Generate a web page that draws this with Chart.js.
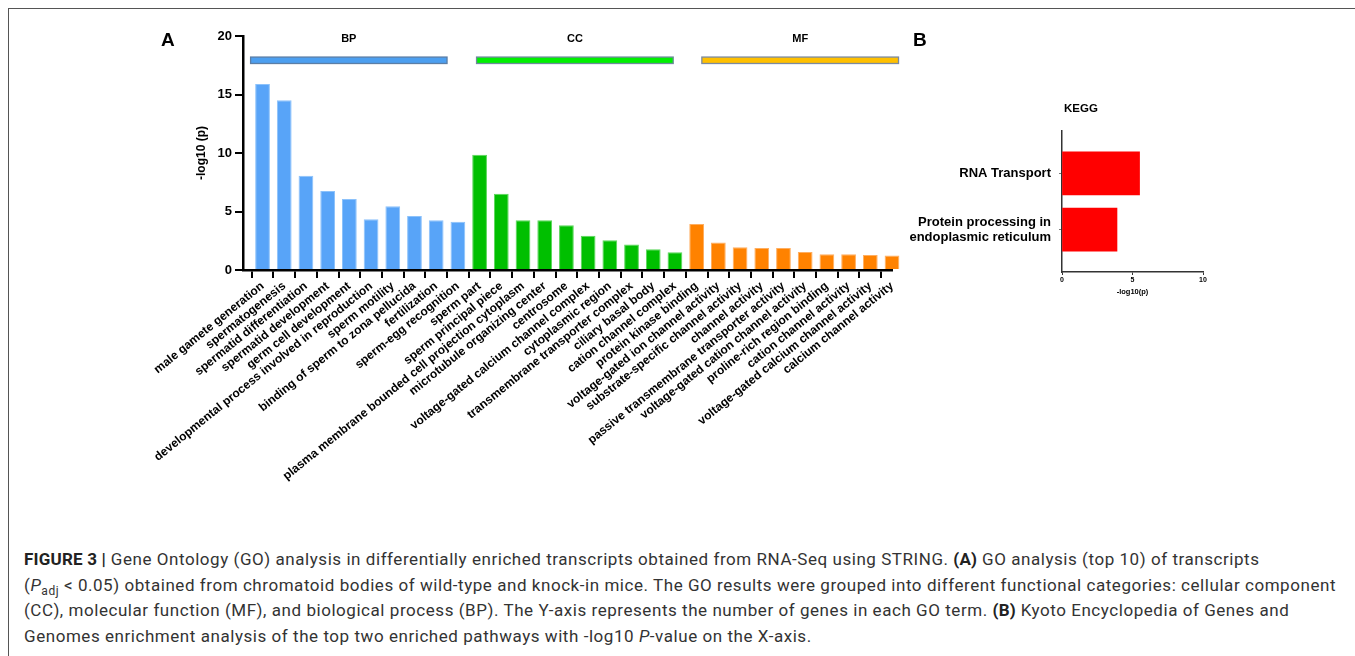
<!DOCTYPE html>
<html>
<head>
<meta charset="utf-8">
<script src="https://cdn.jsdelivr.net/npm/chart.js@4.4.1/dist/chart.umd.min.js"></script>
<style>
  html, body { margin: 0; padding: 0; background: #fff; }
  body { width: 1355px; height: 656px; position: relative; overflow: hidden; font-family: "Liberation Sans", Arial, sans-serif; }
  #frameTop { position: absolute; left: 8px; top: 8px; width: 1360px; height: 0; border-top: 1.5px solid #555; }
  #frameLeft { position: absolute; left: 8px; top: 8px; width: 0; height: 660px; border-left: 1.5px solid #555; }
  #cA { position: absolute; left: 0; top: 0; }
  #cB { position: absolute; left: 900px; top: 90px; }
  .panel { position: absolute; font-weight: bold; font-size: 19px; color: #000; }
  #kegg { position: absolute; left: 1060px; top: 102px; width: 42px; text-align: center; font-weight: bold; font-size: 11.5px; color: #000; }
  #caption { position: absolute; left: 24px; top: 547px; font-family: Roboto, "Liberation Sans", sans-serif; font-size: 17px; letter-spacing: 0.55px; line-height: 25.6px; color: #333; white-space: nowrap; }
  #caption b { font-weight: bold; color: #222; letter-spacing: 0.2px; }
</style>
</head>
<body>
<div id="frameTop"></div>
<div id="frameLeft"></div>
<canvas id="cA" width="940" height="500"></canvas>
<canvas id="cB" width="320" height="220"></canvas>
<div class="panel" style="left:161px; top:29px;">A</div>
<div class="panel" style="left:913px; top:29px;">B</div>
<div id="kegg">KEGG</div>
<div id="caption">
<b>FIGURE 3 |</b> Gene Ontology (GO) analysis in differentially enriched transcripts obtained from RNA-Seq using STRING. <b>(A)</b> GO analysis (top 10) of transcripts<br>
(<i>P</i><sub style="font-size:12px;line-height:0;">adj</sub> &lt; 0.05) obtained from chromatoid bodies of wild-type and knock-in mice. The GO results were grouped into different functional categories: cellular component<br>
(CC), molecular function (MF), and biological process (BP). The Y-axis represents the number of genes in each GO term. <b>(B)</b> Kyoto Encyclopedia of Genes and<br>
Genomes enrichment analysis of the top two enriched pathways with -log10 <i>P</i>-value on the X-axis.
</div>
<script>
// ---------- Panel A data ----------
const bpTerms = [
  'male gamete generation', 'spermatogenesis', 'spermatid differentiation', 'spermatid development',
  'germ cell development', 'developmental process involved in reproduction', 'sperm motility',
  'binding of sperm to zona pellucida', 'fertilization', 'sperm-egg recognition'
];
const bpValues = [15.9, 14.5, 8.05, 6.75, 6.07, 4.33, 5.44, 4.62, 4.25, 4.13];

const ccTerms = [
  'sperm part', 'sperm principal piece', 'plasma membrane bounded cell projection cytoplasm',
  'microtubule organizing center', 'centrosome', 'voltage-gated calcium channel complex',
  'cytoplasmic region', 'transmembrane transporter complex', 'ciliary basal body', 'cation channel complex'
];
const ccValues = [9.86, 6.52, 4.25, 4.25, 3.82, 2.93, 2.54, 2.19, 1.77, 1.51];

const mfTerms = [
  'protein kinase binding', 'voltage-gated ion channel activity', 'substrate-specific channel activity',
  'channel activity', 'passive transmembrane transporter activity', 'voltage-gated cation channel activity',
  'proline-rich region binding', 'cation channel activity', 'voltage-gated calcium channel activity',
  'calcium channel activity'
];
const mfValues = [3.93, 2.34, 1.94, 1.88, 1.88, 1.54, 1.34, 1.34, 1.28, 1.25];

const groupNames = ['BP', 'CC', 'MF'];
const yTicksA = [0, 5, 10, 15, 20];

// ---------- Panel B data ----------
const keggPathways = ['RNA Transport', 'Protein processing in endoplasmic reticulum'];
const keggLines = [['RNA Transport'], ['Protein processing in', 'endoplasmic reticulum']];
const keggValues = [5.5, 3.9];
const xTicksB = [0, 5, 10];

// ---------- build ----------
const categories = [...bpTerms, ...ccTerms, ...mfTerms];
const values = [...bpValues, ...ccValues, ...mfValues];
const barFill = { BP: '#58a4f8', CC: '#00bf00', MF: '#ff8200' };
const barEdge = { BP: '#8cc2fb', CC: '#5ad65a', MF: '#ffae60' };
const groupOfBar = [
  ...bpTerms.map(() => 'BP'), ...ccTerms.map(() => 'CC'), ...mfTerms.map(() => 'MF')
];

// group header bars, spans given in category-index units
const groupBarStyle = {
  BP: { fill: '#4c9ff0', stroke: '#5b7ea6', from: -0.55, to: 8.5 },
  CC: { fill: '#00f000', stroke: '#6d8b9c', from: 9.86, to: 18.92 },
  MF: { fill: '#ffc000', stroke: '#7b8aa0', from: 20.24, to: 29.3 }
};

const groupPlugin = {
  id: 'groups',
  afterDraw(chart) {
    const ctx = chart.ctx;
    const xs = chart.scales.x, ys = chart.scales.y;
    ctx.save();
    groupNames.forEach(g => {
      const st = groupBarStyle[g];
      const x0 = xs.getPixelForValue(st.from);
      const x1 = xs.getPixelForValue(st.to);
      const y0 = ys.getPixelForValue(18.2), y1 = ys.getPixelForValue(17.65);
      ctx.fillStyle = st.fill;
      ctx.fillRect(x0, y0, x1 - x0, y1 - y0);
      ctx.strokeStyle = st.stroke;
      ctx.lineWidth = 1.3;
      ctx.strokeRect(x0, y0, x1 - x0, y1 - y0);
      ctx.fillStyle = '#000';
      ctx.font = 'bold 11px "Liberation Sans", Arial, sans-serif';
      ctx.textAlign = 'center';
      ctx.textBaseline = 'middle';
      ctx.fillText(g, (x0 + x1) / 2, ys.getPixelForValue(19.75));
    });
    ctx.restore();
  }
};

const fontA = { family: '"Liberation Sans", Arial, sans-serif', weight: 'bold' };

new Chart(document.getElementById('cA'), {
  type: 'bar',
  data: {
    datasets: [{
      data: values.map((v, i) => ({ x: i, y: v })),
      backgroundColor: groupOfBar.map(g => barFill[g]),
      borderColor: groupOfBar.map(g => barEdge[g]),
      borderWidth: 1,
      barPercentage: 0.68,
      categoryPercentage: 1.0,
      clip: false
    }]
  },
  options: {
    responsive: false,
    animation: false,
    layout: { padding: { left: 190, top: 36, right: 48, bottom: 0 } },
    plugins: { legend: { display: false }, tooltip: { enabled: false } },
    scales: {
      x: {
        type: 'linear',
        min: -0.9, max: 29,
        offset: false,
        afterBuildTicks: s => { s.ticks = categories.map((c, i) => ({ value: i })); },
        grid: { display: true, drawOnChartArea: false, drawTicks: true, tickLength: 8, color: '#000', lineWidth: 2 },
        border: { display: true, color: '#000', width: 2.5 },
        ticks: { autoSkip: false, minRotation: 39, maxRotation: 39, color: '#000', padding: 1,
                 font: { ...fontA, size: 12 },
                 callback: v => categories[v] },
        afterFit: s => { s.height = 230; }
      },
      y: {
        min: 0, max: 20,
        afterBuildTicks: s => { s.ticks = yTicksA.map(v => ({ value: v })); },
        grid: { display: true, drawOnChartArea: false, drawTicks: true, tickLength: 8, color: '#000', lineWidth: 2 },
        border: { display: true, color: '#000', width: 2.5 },
        ticks: { color: '#000', padding: 3, font: { ...fontA, size: 13 } },
        title: { display: true, text: '-log10 (p)', color: '#000', padding: 4, font: { ...fontA, size: 12 } },
        afterFit: s => { s.width = 53; }
      }
    }
  },
  plugins: [groupPlugin]
});

// ---------- Panel B ----------
const labelsB = ['', keggLines[0], '', keggLines[1], ''];
const dataB = [null, keggValues[0], null, keggValues[1], null];

new Chart(document.getElementById('cB'), {
  type: 'bar',
  data: {
    labels: labelsB,
    datasets: [{ data: dataB, backgroundColor: '#ff0000', barThickness: 43 }]
  },
  options: {
    indexAxis: 'y',
    responsive: false,
    animation: false,
    layout: { padding: { left: 0, top: 41, right: 17, bottom: 14 } },
    plugins: { legend: { display: false }, tooltip: { enabled: false } },
    scales: {
      x: {
        min: 0, max: 10,
        afterBuildTicks: s => { s.ticks = xTicksB.map(v => ({ value: v })); },
        grid: { display: true, drawOnChartArea: false, drawTicks: true, tickLength: 3, color: '#333', lineWidth: 1 },
        border: { display: true, color: '#333', width: 1.5 },
        ticks: { color: '#000', padding: 1, font: { ...fontA, size: 7 } },
        title: { display: true, text: '-log10(p)', color: '#000', padding: { top: 2, bottom: 0 }, font: { ...fontA, size: 7.5 } },
        afterFit: s => { s.height = 24; }
      },
      y: {
        offset: true,
        grid: { display: true, offset: false, drawOnChartArea: false, drawTicks: true, tickLength: 3,
                color: c => (c.tick && c.tick.label !== '' ? '#777' : 'rgba(0,0,0,0)'), lineWidth: 1 },
        border: { display: true, color: '#333', width: 1.5 },
        ticks: { color: '#000', padding: 8, autoSkip: false, font: { ...fontA, size: 13, lineHeight: 1.18 } },
        afterFit: s => { s.width = 162; }
      }
    }
  }
});
</script>
</body>
</html>
